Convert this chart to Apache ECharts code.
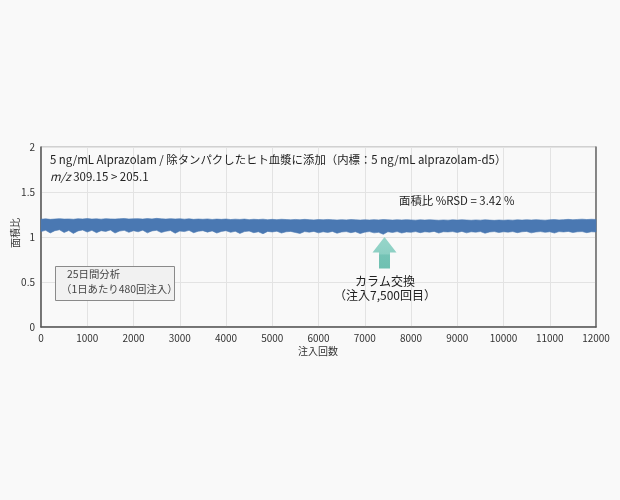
<!DOCTYPE html>
<html><head><meta charset="utf-8">
<script src="https://cdn.jsdelivr.net/npm/echarts@6/dist/echarts.min.js"></script>
<style>html,body{margin:0;padding:0;background:#f9f9f9}#c{width:620px;height:500px}</style>
</head><body><div id="c"></div>
<script>
// Injection step between band samples (every 100 injections, 0..12000)
const injectionStep = 100;
// Upper envelope of the area-ratio band
const bandUpper = [
1.198,1.202,1.196,1.200,1.204,1.199,1.201,1.197,1.203,1.200,1.205,1.199,1.202,1.198,1.204,1.201,1.199,1.203,1.206,1.200,1.202,
1.204,1.199,1.205,1.201,1.207,1.202,1.199,1.204,1.200,1.203,1.198,1.202,1.196,1.200,1.197,1.201,1.195,1.199,1.196,1.200,
1.194,1.198,1.195,1.199,1.193,1.197,1.194,1.198,1.192,1.196,1.193,1.197,1.194,1.191,1.195,1.192,1.196,1.193,1.190,1.194,
1.191,1.195,1.192,1.189,1.193,1.190,1.194,1.191,1.188,1.192,1.189,1.193,1.190,1.194,1.191,1.188,1.192,1.189,1.193,1.190,
1.187,1.191,1.188,1.192,1.189,1.186,1.190,1.187,1.191,1.188,1.192,1.189,1.186,1.190,1.187,1.191,1.188,1.185,1.189,1.186,
1.190,1.187,1.191,1.188,1.192,1.189,1.193,1.190,1.187,1.191,1.194,1.190,1.193,1.196,1.192,1.195,1.198,1.194,1.197,1.195
];
// Lower envelope of the band
const bandLower = [
1.060,1.075,1.045,1.070,1.080,1.050,1.072,1.040,1.068,1.078,1.055,1.074,1.048,1.070,1.062,1.078,1.044,1.066,1.074,1.052,1.070,
1.058,1.076,1.046,1.068,1.074,1.050,1.064,1.072,1.042,1.066,1.060,1.074,1.048,1.064,1.070,1.054,1.068,1.044,1.062,1.070,
1.052,1.064,1.040,1.060,1.066,1.048,1.058,1.036,1.062,1.056,1.064,1.044,1.058,1.062,1.050,1.040,1.060,1.054,1.062,1.046,
1.058,1.050,1.062,1.042,1.056,1.060,1.048,1.058,1.038,1.054,1.060,1.046,1.052,1.030,1.058,1.050,1.060,1.044,1.056,1.052,
1.060,1.048,1.058,1.054,1.062,1.044,1.058,1.056,1.060,1.050,1.062,1.046,1.058,1.054,1.060,1.042,1.056,1.060,1.050,1.058,
1.054,1.060,1.048,1.058,1.062,1.046,1.056,1.060,1.052,1.058,1.044,1.060,1.056,1.062,1.050,1.058,1.060,1.048,1.058,1.056
];
const xTicks = [0,1000,2000,3000,4000,5000,6000,7000,8000,9000,10000,11000,12000];
const yTicks = [0,0.5,1,1.5,2];
const titleLine1 = '5 ng/mL Alprazolam / 除タンパクしたヒト血漿に添加（内標：5 ng/mL alprazolam-d5）';
const rsdText = '面積比 %RSD = 3.42 %';

const n = Math.min(bandUpper.length, bandLower.length);
const bandData = [];
for (let i = 0; i < n; i++) bandData.push([i * injectionStep, bandLower[i], bandUpper[i]]);

const JP = "'Noto Sans CJK JP', 'Noto Sans', sans-serif";
const blue = '#4a78b2';
const Z = 100;
const chart = echarts.init(document.getElementById('c'), null, {renderer: 'canvas'});
chart.setOption({
  backgroundColor: '#f9f9f9',
  animation: false,
  grid: {left: 41, right: 24, top: 147, bottom: 173, show: true, borderColor: '#a8a8a8', borderWidth: 1, backgroundColor: 'transparent'},
  xAxis: {type: 'value', min: 0, max: 12000, interval: 1000,
    axisLine: {show: true, lineStyle: {color: '#555', width: 1.5}},
    axisTick: {show: false},
    axisLabel: {color: '#333', fontSize: 10, fontFamily: JP, margin: 6, formatter: v => xTicks.includes(v) ? String(v) : ''},
    splitLine: {show: true, lineStyle: {color: '#e3e3e3'}}},
  yAxis: [{type: 'value', min: 0, max: 2, interval: 0.5,
    axisLine: {show: true, lineStyle: {color: '#555', width: 1.5}},
    axisTick: {show: false},
    axisLabel: {color: '#333', fontSize: 10, fontFamily: JP, margin: 6, formatter: v => yTicks.includes(v) ? String(v) : ''},
    splitLine: {show: true, lineStyle: {color: '#e3e3e3'}}},
    {type: 'value', min: 0, max: 2, position: 'right', axisLine: {show: true, lineStyle: {color: '#6a6a6a', width: 1.5}}, axisLabel: {show: false}, axisTick: {show: false}, splitLine: {show: false}}],
  series: [{
    type: 'custom',
    data: bandData,
    encode: {x: 0, y: [1, 2]},
    renderItem: function (params, api) {
      if (params.dataIndex !== 0) return null;
      const top = [], bot = [];
      for (let i = 0; i < bandData.length; i++) {
        top.push(api.coord([bandData[i][0], bandData[i][2]]));
        bot.push(api.coord([bandData[i][0], bandData[i][1]]));
      }
      const pts = top.concat(bot.reverse());
      return {type: 'polygon', shape: {points: pts}, style: {fill: blue, stroke: blue, lineWidth: 0.6}};
    }
  }],
  graphic: [
    {type: 'text', z: Z, left: 50, top: 154, style: {text: titleLine1, font: '11.4px ' + JP, fill: '#222'}},
    {type: 'text', z: Z, left: 50, top: 171, style: {text: '{i|m/z} 309.15 > 205.1', font: '11.5px ' + JP, fill: '#222', rich: {i: {fontStyle: 'italic', fontSize: 11.5, fontFamily: JP, fill: '#222'}}}},
    {type: 'text', z: Z, left: 399, top: 195, style: {text: rsdText, font: '11.4px ' + JP, fill: '#222'}},
    {type: 'rect', z: Z, shape: {x: 55.5, y: 266.5, width: 119, height: 34}, style: {fill: '#f1f1f1', stroke: '#8a8a8a', lineWidth: 1}},
    {type: 'text', z: Z + 1, left: 67, top: 269, style: {text: '25日間分析', font: '10.4px ' + JP, fill: '#444'}},
    {type: 'text', z: Z + 1, left: 61, top: 284, style: {text: '（1日あたり480回注入）', font: '10.4px ' + JP, fill: '#444'}},
    {type: 'polygon', z: Z, shape: {points: [[384.5,237],[396.5,252.5],[390,252.5],[390,268.5],[379,268.5],[379,252.5],[372.5,252.5]]},
      style: {fill: new echarts.graphic.LinearGradient(0,0,0,1,[{offset:0,color:'#97d6ca'},{offset:0.55,color:'#8ccfc3'},{offset:0.56,color:'#74c3b5'},{offset:1,color:'#6fc0b1'}])}},
    {type: 'text', z: Z, x: 385, y: 281, style: {text: 'カラム交換', font: '12px ' + JP, fill: '#222', align: 'center', verticalAlign: 'middle'}},
    {type: 'text', z: Z, x: 385, y: 295, style: {text: '（注入7,500回目）', font: '12px ' + JP, fill: '#222', align: 'center', verticalAlign: 'middle'}},
    {type: 'text', z: Z, x: 318, y: 351, style: {text: '注入回数', font: '10px ' + JP, fill: '#333', align: 'center', verticalAlign: 'middle'}},
    {type: 'text', z: Z, x: 15, y: 233, rotation: Math.PI / 2, style: {text: '面積比', font: '10px ' + JP, fill: '#333', align: 'center', verticalAlign: 'middle'}}
  ]
});
</script></body></html>
